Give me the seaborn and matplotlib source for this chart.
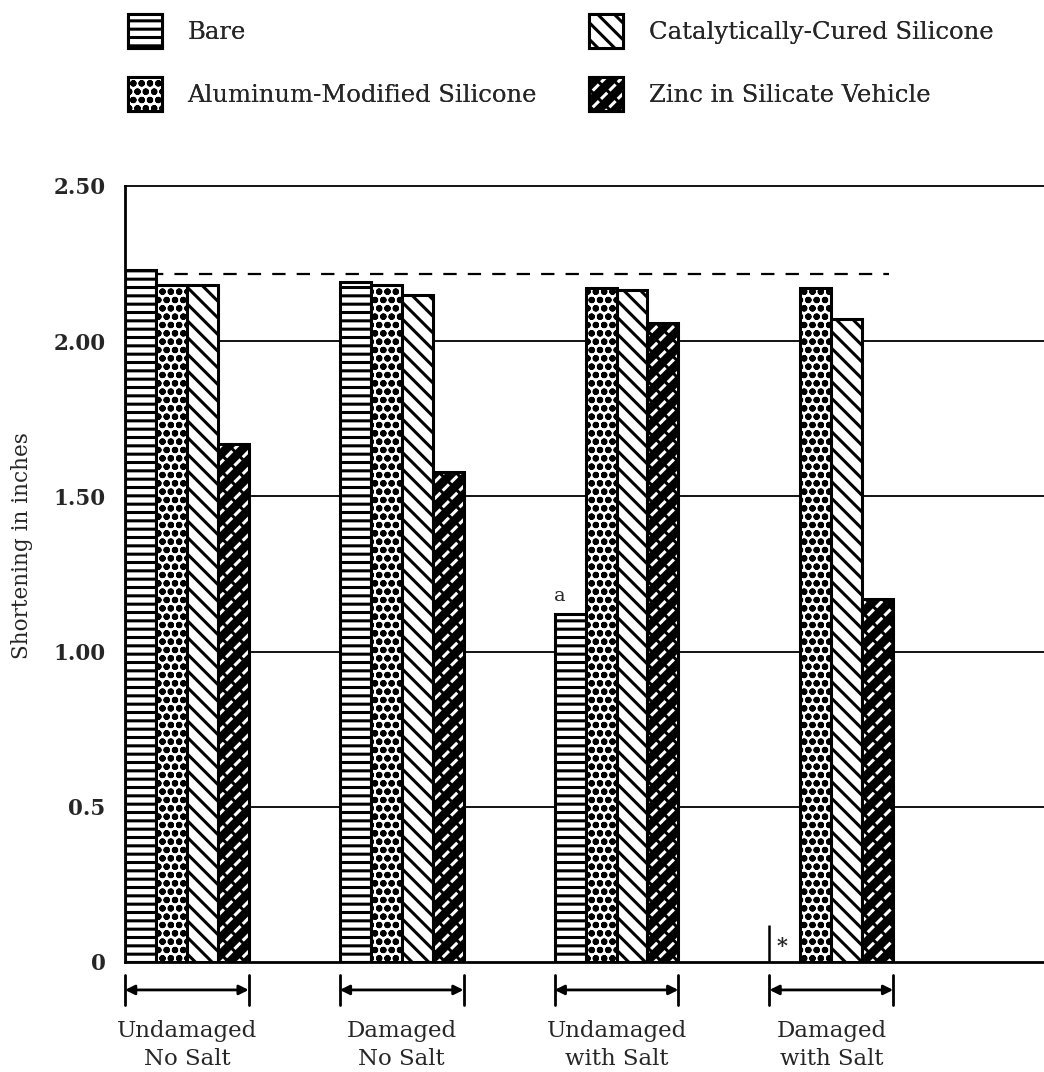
import numpy as np
import pandas as pd
import matplotlib
matplotlib.use("Agg")
import matplotlib.pyplot as plt
import matplotlib.patches as mpatches
from matplotlib.legend_handler import HandlerTuple
import seaborn as sns

# Shortening (inches) of each coating under each exposure condition
conditions = ["Undamaged\nNo Salt", "Damaged\nNo Salt", "Undamaged\nwith Salt", "Damaged\nwith Salt"]
coatings = ["Bare", "Aluminum-Modified Silicone", "Catalytically-Cured Silicone", "Zinc in Silicate Vehicle"]
bare = [2.23, 2.19, 1.12, np.nan]
aluminum = [2.18, 2.18, 2.17, 2.17]
catalytic = [2.18, 2.15, 2.165, 2.07]
zinc = [1.67, 1.58, 2.06, 1.17]
reference_level = 2.215
ytick_values = [0, 0.5, 1.0, 1.5, 2.0, 2.5]
ytick_labels = ["0", "0.5", "1.00", "1.50", "2.00", "2.50"]

hatches = ["--", "oo", "\\\\", None]

sns.set_style("white")
plt.rcParams["font.family"] = ["DejaVu Serif"]
plt.rcParams["hatch.linewidth"] = 2.2
plt.rcParams["hatch.color"] = "black"

df = pd.DataFrame({
    "condition": np.repeat(conditions, 4),
    "coating": coatings * 4,
    "shortening": [v for quad in zip(bare, aluminum, catalytic, zinc) for v in quad],
})

fig = plt.figure(figsize=(10.44, 10.72), dpi=100)
ax = fig.add_axes([125 / 1044, 1 - 962 / 1072, 1 - 125 / 1044, (962 - 186) / 1072])

n = len(coatings)
bw = 0.144
sns.barplot(data=df.dropna(), x="condition", y="shortening", hue="coating",
            order=conditions, hue_order=coatings,
            palette={c: "white" for c in coatings},
            width=bw * n, edgecolor="black", linewidth=2.2,
            saturation=1, legend=False, ax=ax, zorder=3)

offsets = (np.arange(n) - (n - 1) / 2) * bw


def zinc_overlay(p):
    """Black fill with white slanted dashes, finished with a black outline."""
    p.set_facecolor("black")
    p.set_edgecolor("white")
    p.set_hatch("//")
    top = mpatches.Rectangle(p.get_xy(), p.get_width(), p.get_height(), fill=False,
                             edgecolor="black", hatch="\\\\", lw=2.2, zorder=p.get_zorder() + 0.1)
    return top


for p in list(ax.patches):
    cx = p.get_x() + p.get_width() / 2
    k = int(round((cx - round(cx) - offsets[0]) / bw))
    if hatches[k] is None:
        ax.add_patch(zinc_overlay(p))
    else:
        p.set_hatch(hatches[k])
        p.set_facecolor("white")
        p.set_edgecolor("black")

ax.set_xlim(-2 * bw, 3.99)
ax.set_ylim(0, 2.5)

# horizontal guide lines
for yv in ytick_values[1:-1]:
    ax.axhline(yv, color="black", lw=1.3, zorder=1)
ax.hlines(reference_level, -0.17, 3.27, colors="black", linestyles=(0, (6, 5)), lw=1.6, zorder=2)

ax.set_yticks(ytick_values)
ax.set_yticklabels(ytick_labels, fontsize=15.5, fontweight="bold")
ax.tick_params(axis="y", length=0, pad=14)
ax.set_xticks([])
ax.set_xlabel("")
ax.set_ylabel("Shortening in inches", fontsize=15.5)
ax.yaxis.set_label_coords(-0.100, (962 - 546) / 776)
ax.spines["right"].set_visible(False)
for s in ["left", "bottom", "top"]:
    ax.spines[s].set_color("black")
    ax.spines[s].set_linewidth(2 if s != "top" else 1.3)

# "a" note over the bare bar with salt, and the failed-specimen marker
ax.text(2 + offsets[0] - 0.05, bare[2] + 0.03, "a", ha="center", va="bottom", fontsize=14)
x_left = 3 + offsets[0] - bw / 2
ax.vlines(x_left, 0, 0.12, colors="black", lw=1.8, zorder=4)
ax.text(x_left + 0.06, 0.02, "*", ha="center", va="bottom", fontsize=15, fontweight="bold")

# group brackets and labels beneath the axis
trans = ax.get_xaxis_transform()
for i, cond in enumerate(conditions):
    x0 = i - n * bw / 2
    x1 = i + n * bw / 2
    for xe in (x0, x1):
        ax.plot([xe, xe], [-0.017, -0.056], transform=trans, color="black", lw=2, clip_on=False)
    ax.annotate("", xy=(x0, -0.036), xytext=(x1, -0.036), xycoords=trans, textcoords=trans,
                arrowprops=dict(arrowstyle="<|-|>", color="black", lw=2, mutation_scale=14,
                                shrinkA=0, shrinkB=0))
    ax.text(i, -0.075, cond, transform=trans, ha="center", va="top", fontsize=16.5,
            linespacing=1.32)

# legend in two columns
def legend_handle(k):
    if hatches[k] is None:
        base = mpatches.Patch(facecolor="black", edgecolor="white", hatch="//", lw=2.2)
        top = mpatches.Patch(fill=False, edgecolor="black", hatch="\\\\", lw=2.2)
        return (base, top)
    return mpatches.Patch(facecolor="white", edgecolor="black", hatch=hatches[k], lw=2.2)


handles = [legend_handle(k) for k in range(n)]
for col, idx in enumerate([(0, 1), (2, 3)]):
    leg = fig.legend([handles[j] for j in idx], [coatings[j] for j in idx],
                     loc="upper left",
                     bbox_to_anchor=((128 if col == 0 else 589) / 1044, 1 - 14 / 1072),
                     frameon=False, fontsize=17.5, handlelength=1.4, handleheight=1.77,
                     handletextpad=1.05, labelspacing=1.2, borderpad=0, borderaxespad=0,
                     handler_map={tuple: HandlerTuple(ndivide=1, pad=0)})
    fig.add_artist(leg)

fig.savefig("out.png", dpi=100)
